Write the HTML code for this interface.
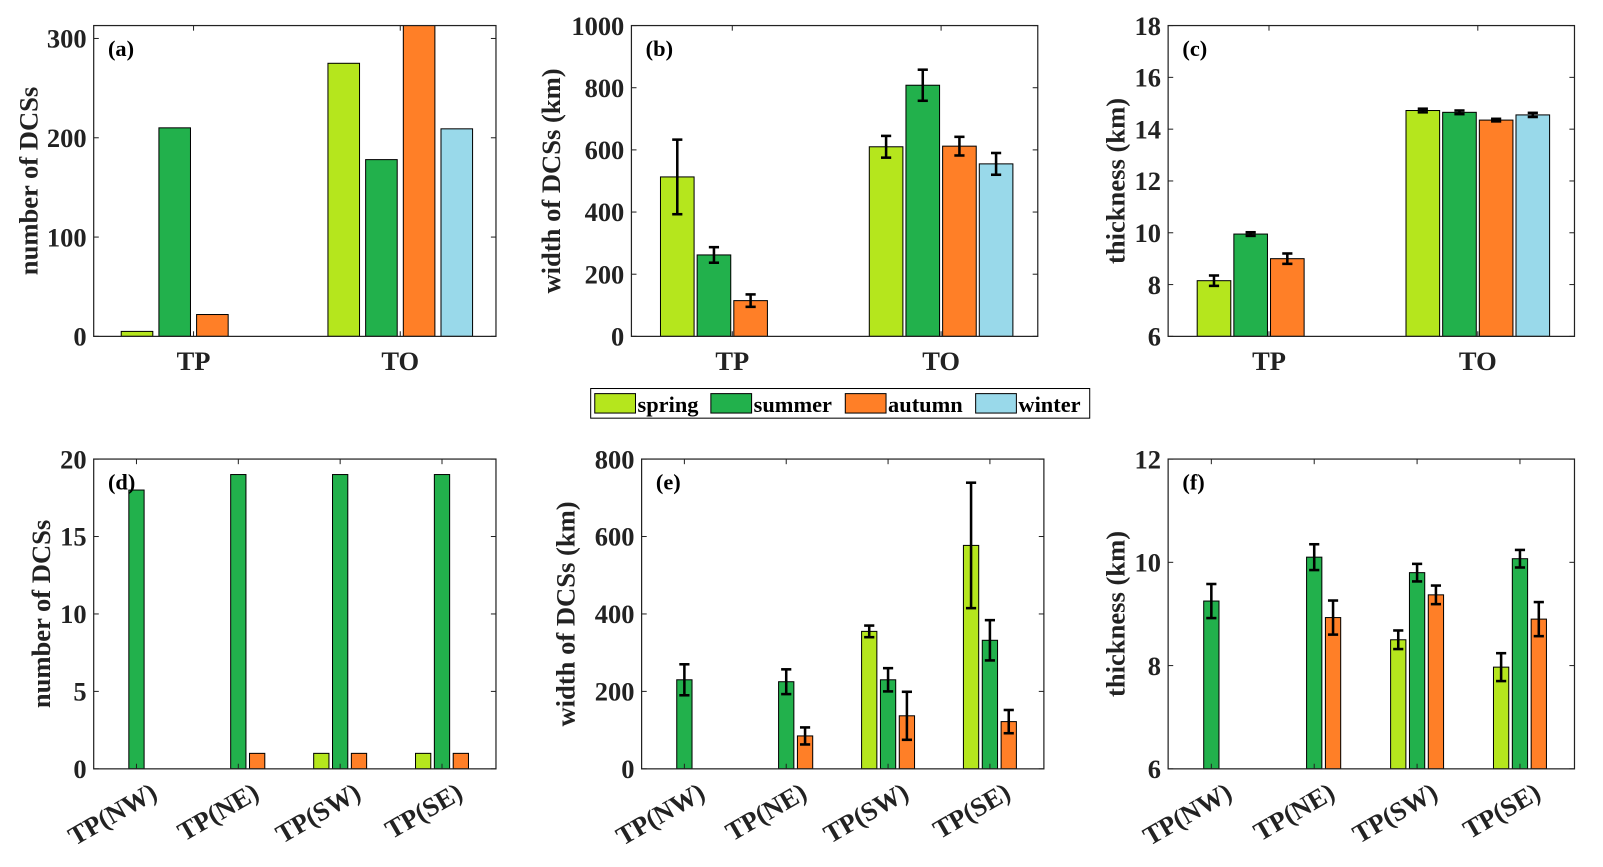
<!DOCTYPE html>
<html><head><meta charset="utf-8">
<style>
html,body{margin:0;padding:0;background:#fff;}
svg{display:block;font-family:"Liberation Serif",serif;font-weight:bold;}
</style></head>
<body>
<svg id="fig" width="1603" height="867" viewBox="0 0 1574 848" preserveAspectRatio="none" xmlns="http://www.w3.org/2000/svg">
<g>
<rect x="580" y="380" width="490" height="29" fill="#fff" stroke="#000" stroke-width="1"/>
<rect x="584" y="385" width="40" height="19" fill="#b5e61d" stroke="#000"/>
<text x="626" y="403" font-size="22">spring</text>
<rect x="698" y="385" width="40" height="19" fill="#22b14c" stroke="#000"/>
<text x="740" y="403" font-size="22">summer</text>
<rect x="830" y="385" width="40" height="19" fill="#ff7f27" stroke="#000"/>
<text x="872" y="403" font-size="22">autumn</text>
<rect x="958" y="385" width="40" height="19" fill="#99d9ea" stroke="#000"/>
<text x="1000" y="403" font-size="22">winter</text>
</g>
</svg>
<script>
const colors = ["#b5e61d","#22b14c","#ff7f27","#99d9ea"];
const seasons = ["spring","summer","autumn","winter"];
const topCats = ["TP","TO"];
const botCats = ["TP(NW)","TP(NE)","TP(SW)","TP(SE)"];
// (a)
const aVals = [[5,210,22,0],[275,178,315,209]];
// (b)
const bVals = [[513,262,115,0],[610,808,612,555]];
const bErr = [[120,25,20,0],[35,50,30,35]];
// (c)
const cVals = [[8.15,9.95,9.0,0],[14.72,14.65,14.35,14.55]];
const cErr = [[0.2,0.07,0.2,0],[0.07,0.07,0.05,0.08]];
// (d)
const dVals = [[0,18,0],[0,19,1],[1,19,1],[1,19,1]];
// (e)
const eVals = [[0,230,0],[0,225,85],[355,230,137],[577,332,122]];
const eErr = [[0,40,0],[0,32,22],[15,30,62],[162,52,30]];
// (f)
const fVals = [[0,9.25,0],[0,10.1,8.93],[8.5,9.8,9.37],[7.97,10.07,8.9]];
const fErr = [[0,0.33,0],[0,0.25,0.33],[0.18,0.17,0.18],[0.27,0.17,0.33]];

const yTicksA=[0,100,200,300], yTicksB=[0,200,400,600,800,1000], yTicksC=[6,8,10,12,14,16,18];
const yTicksD=[0,5,10,15,20], yTicksE=[0,200,400,600,800], yTicksF=[6,8,10,12];

const NS="http://www.w3.org/2000/svg";
const svg=document.getElementById("fig");
function mk(tag,attrs,parent){const e=document.createElementNS(NS,tag);for(const k in attrs)e.setAttribute(k,attrs[k]);(parent||svg).appendChild(e);return e;}

function panel(o){
  const g=mk("g",{});
  
  
  const {x0,x1,y0,y1,ymin,ymax,xmin,xmax}=o;
  const sx=v=>x0+(v-xmin)/(xmax-xmin)*(x1-x0);
  const sy=v=>y1-(v-ymin)/(ymax-ymin)*(y1-y0);
  const clip=mk("clipPath",{id:"clip"+o.id},g);
  mk("rect",{x:x0,y:y0,width:x1-x0,height:y1-y0},clip);
  const bg=mk("g",{"clip-path":"url(#clip"+o.id+")"},g);
  const n=o.vals[0].length;
  o.vals.forEach((grp,i)=>{
    grp.forEach((v,j)=>{
      if(v<=ymin)return;
      const cx=sx(i+1)+(j-(n-1)/2)*o.step;
      const r=mk("rect",{x:cx-o.bw/2,y:sy(v),width:o.bw,height:sy(ymin)-sy(v),fill:colors[j],stroke:"#000","stroke-width":1},bg);
      
      
      if(o.err&&o.err[i][j]>0){
        const e=o.err[i][j];
        const eg=mk("g",{stroke:"#000","stroke-width":2.5,fill:"none"},g);
        
        
        mk("line",{x1:cx,x2:cx,y1:sy(v-e),y2:sy(v+e)},eg);
        mk("line",{x1:cx-5,x2:cx+5,y1:sy(v-e),y2:sy(v-e)},eg);
        mk("line",{x1:cx-5,x2:cx+5,y1:sy(v+e),y2:sy(v+e)},eg);
      }
    });
  });
  const box=mk("rect",{x:x0,y:y0,width:x1-x0,height:y1-y0,fill:"none",stroke:"#222","stroke-width":1.2},g);
  
  
  o.yticks.forEach(t=>{
    const y=sy(t);
    mk("line",{x1:x0,x2:x0+5,y1:y,y2:y,stroke:"#222"},g);
    mk("line",{x1:x1,x2:x1-5,y1:y,y2:y,stroke:"#222"},g);
    const tx=mk("text",{x:x0-7,y:y+9,"font-size":26,"text-anchor":"end",fill:"#222"},g);
    tx.textContent=t;
    
    
  });
  o.cats.forEach((c,i)=>{
    const x=sx(i+1);
    mk("line",{x1:x,x2:x,y1:y1,y2:y1-5,stroke:"#222"},g);
    mk("line",{x1:x,x2:x,y1:y0,y2:y0+5,stroke:"#222"},g);
    let tx;
    if(o.rot){
      const ax=x+22, ay=y1+28;
      tx=mk("text",{x:ax,y:ay,"font-size":26,"text-anchor":"end",fill:"#222",transform:`rotate(-30 ${ax} ${ay})`},g);
    } else {
      tx=mk("text",{x:x,y:y1+33,"font-size":26,"text-anchor":"middle",fill:"#222"},g);
    }
    tx.textContent=c;
    
    
  });
  const yl=mk("text",{x:o.ylx,y:(y0+y1)/2,"font-size":26,"text-anchor":"middle",fill:"#222",transform:`rotate(-90 ${o.ylx} ${(y0+y1)/2})`},g);
  yl.textContent=o.ylabel;
  
  
  const pl=mk("text",{x:x0+14,y:y0+30,"font-size":22,fill:"#000"},g);
  pl.textContent="("+o.id+")";
  
  
}
const T={xmin:0.517,xmax:2.463,step:37,bw:31,cats:topCats,y0:25,y1:329};
const B={xmin:0.58,xmax:4.53,step:18.5,bw:15,cats:botCats,y0:449,y1:752,rot:true};
panel({...T,id:"a",x0:92,x1:487,ymin:0,ymax:313,vals:aVals,yticks:yTicksA,ylabel:"number of DCSs",ylx:37});
panel({...T,id:"b",x0:620,x1:1019,ymin:0,ymax:1000,vals:bVals,err:bErr,yticks:yTicksB,ylabel:"width of DCSs (km)",ylx:550,step:36,bw:33});
panel({...T,id:"c",x0:1147,x1:1546,ymin:6,ymax:18,vals:cVals,err:cErr,yticks:yTicksC,ylabel:"thickness (km)",ylx:1104,step:36,bw:33});
panel({...B,id:"d",x0:92,x1:487,ymin:0,ymax:20,vals:dVals,yticks:yTicksD,ylabel:"number of DCSs",ylx:49});
panel({...B,id:"e",x0:630,x1:1025,ymin:0,ymax:800,vals:eVals,err:eErr,yticks:yTicksE,ylabel:"width of DCSs (km)",ylx:564});
panel({...B,id:"f",x0:1147,x1:1546,ymin:6,ymax:12,vals:fVals,err:fErr,yticks:yTicksF,ylabel:"thickness (km)",ylx:1104});
</script>
</body></html>
